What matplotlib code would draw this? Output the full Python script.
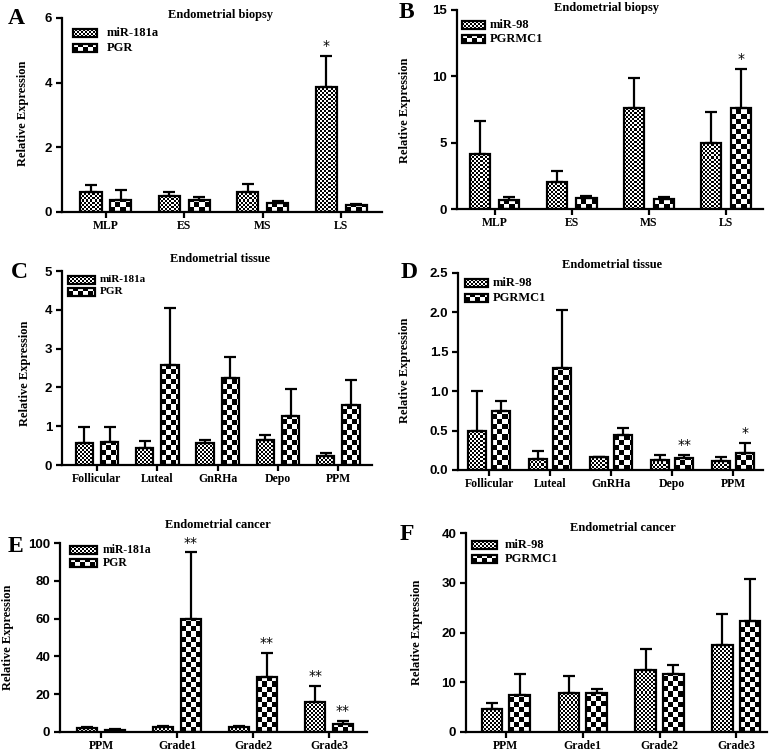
import numpy as np
import matplotlib.pyplot as plt
from matplotlib.patches import Rectangle
from matplotlib.ticker import FormatStrFormatter

# ---------------- data ----------------
biopsy = ['MLP', 'ES', 'MS', 'LS']
tissue = ['Follicular', 'Luteal', 'GnRHa', 'Depo', 'PPM']
cancer = ['PPM', 'Grade1', 'Grade2', 'Grade3']

# A: endometrial biopsy, miR-181a / PGR
a_mir = [0.62, 0.49, 0.62, 3.86]
a_mir_sd = [0.21, 0.13, 0.24, 0.97]
a_gene = [0.36, 0.36, 0.29, 0.21]
a_gene_sd = [0.31, 0.11, 0.06, 0.03]
a_stars = [(0, 3, '*')]

# B: endometrial biopsy, miR-98 / PGRMC1
b_mir = [4.15, 2.0, 7.64, 5.0]
b_mir_sd = [2.51, 0.89, 2.26, 2.34]
b_gene = [0.65, 0.80, 0.73, 7.59]
b_gene_sd = [0.28, 0.18, 0.20, 2.96]
b_stars = [(1, 3, '*')]

# C: endometrial tissue, miR-181a / PGR
c_mir = [0.56, 0.45, 0.56, 0.64, 0.24]
c_mir_sd = [0.43, 0.18, 0.08, 0.13, 0.06]
c_gene = [0.58, 2.58, 2.25, 1.27, 1.55]
c_gene_sd = [0.41, 1.46, 0.54, 0.68, 0.64]
c_stars = []

# D: endometrial tissue, miR-98 / PGRMC1
d_mir = [0.50, 0.14, 0.16, 0.13, 0.12]
d_mir_sd = [0.50, 0.10, 0.01, 0.06, 0.05]
d_gene = [0.75, 1.29, 0.44, 0.15, 0.21]
d_gene_sd = [0.13, 0.74, 0.09, 0.04, 0.13]
d_stars = [(1, 3, '**'), (1, 4, '*')]

# E: endometrial cancer, miR-181a / PGR
e_mir = [2.1, 2.5, 2.6, 15.8]
e_mir_sd = [0.4, 0.5, 0.7, 8.8]
e_gene = [1.2, 60.0, 29.3, 4.2]
e_gene_sd = [0.3, 35.0, 12.7, 1.8]
e_stars = [(1, 1, '**'), (1, 2, '**'), (0, 3, '**'), (1, 3, '**')]

# F: endometrial cancer, miR-98 / PGRMC1
f_mir = [4.56, 7.9, 12.5, 17.4]
f_mir_sd = [1.34, 3.3, 4.1, 6.4]
f_gene = [7.4, 7.85, 11.7, 22.3]
f_gene_sd = [4.3, 0.75, 1.7, 8.4]
f_stars = []

panels = [
    dict(letter='A', title='Endometrial biopsy', groups=biopsy, names=['miR-181a', 'PGR'],
         mir=a_mir, mir_sd=a_mir_sd, gene=a_gene, gene_sd=a_gene_sd, stars=a_stars,
         yticks=[0, 2, 4, 6], fmt='%d'),
    dict(letter='B', title='Endometrial biopsy', groups=biopsy, names=['miR-98', 'PGRMC1'],
         mir=b_mir, mir_sd=b_mir_sd, gene=b_gene, gene_sd=b_gene_sd, stars=b_stars,
         yticks=[0, 5, 10, 15], fmt='%d'),
    dict(letter='C', title='Endometrial tissue', groups=tissue, names=['miR-181a', 'PGR'],
         mir=c_mir, mir_sd=c_mir_sd, gene=c_gene, gene_sd=c_gene_sd, stars=c_stars,
         yticks=[0, 1, 2, 3, 4, 5], fmt='%d'),
    dict(letter='D', title='Endometrial tissue', groups=tissue, names=['miR-98', 'PGRMC1'],
         mir=d_mir, mir_sd=d_mir_sd, gene=d_gene, gene_sd=d_gene_sd, stars=d_stars,
         yticks=[0, 0.5, 1.0, 1.5, 2.0, 2.5], fmt='%.1f'),
    dict(letter='E', title='Endometrial cancer', groups=cancer, names=['miR-181a', 'PGR'],
         mir=e_mir, mir_sd=e_mir_sd, gene=e_gene, gene_sd=e_gene_sd, stars=e_stars,
         yticks=[0, 20, 40, 60, 80, 100], fmt='%d'),
    dict(letter='F', title='Endometrial cancer', groups=cancer, names=['miR-98', 'PGRMC1'],
         mir=f_mir, mir_sd=f_mir_sd, gene=f_gene, gene_sd=f_gene_sd, stars=f_stars,
         yticks=[0, 10, 20, 30, 40], fmt='%d'),
]

# ---------------- layout (pixels) ----------------
W, H = 777, 752
layout = {
    'A': dict(rect=(62, 18, 382, 212), xlim=(-0.56, 3.52), w=0.27, off=0.19, lfs=9,
              tpos=(220, 15), lpos=(16, 18), ypos=(23, 113), leg=(73, 97, 33, 48, 107)),
    'B': dict(rect=(457, 10, 763, 209), xlim=(-0.49, 3.48), w=0.26, off=0.19, lfs=9,
              tpos=(607, 8), lpos=(406, 13), ypos=(405, 110), leg=(462, 485, 25, 39, 490)),
    'C': dict(rect=(62, 271, 372, 465), xlim=(-0.58, 4.56), w=0.29, off=0.21, lfs=8,
              tpos=(220, 259), lpos=(19, 273), ypos=(25, 373), leg=(68, 95, 280, 292, 100)),
    'D': dict(rect=(458, 273, 763, 470), xlim=(-0.51, 4.49), w=0.30, off=0.20, lfs=9,
              tpos=(612, 265), lpos=(409, 272), ypos=(405, 370), leg=(465, 488, 283, 298, 493)),
    'E': dict(rect=(60, 543, 367, 732), xlim=(-0.54, 3.50), w=0.26, off=0.18, lfs=8.5,
              tpos=(218, 525), lpos=(15, 546), ypos=(8, 637), leg=(70, 97, 550, 563, 103)),
    'F': dict(rect=(466, 533, 767, 732), xlim=(-0.52, 3.40), w=0.27, off=0.18, lfs=9,
              tpos=(623, 528), lpos=(407, 535), ypos=(417, 632), leg=(472, 497, 545, 559, 505)),
}

serif = 'Liberation Serif'
sans = 'Liberation Sans'
LW = 1.6
FINE, COARSE = 2, 5   # checker cell size in pixels

fig = plt.figure(figsize=(W / 100, H / 100), dpi=100)
ov = fig.add_axes([0, 0, 1, 1], zorder=5)
ov.set_xlim(0, W)
ov.set_ylim(H, 0)
ov.axis('off')
ov.patch.set_alpha(0)


def checker(ax, patch, cell):
    bb = patch.get_window_extent()
    nx = max(1, int(np.ceil(bb.width / cell)))
    ny = max(1, int(np.ceil(bb.height / cell)))
    img = (np.add.outer(np.arange(ny), np.arange(nx)) % 2).astype(float)
    inv = ax.transData.inverted()
    x0, y0 = inv.transform((bb.x0, bb.y0))
    x1, y1 = inv.transform((bb.x0 + nx * cell, bb.y0 + ny * cell))
    im = ax.imshow(img, cmap='gray', vmin=0, vmax=1, extent=(x0, x1, y0, y1),
                   origin='lower', interpolation='nearest', aspect='auto', zorder=2)
    im.set_clip_path(patch)


for p in panels:
    L = layout[p['letter']]
    l, t, r, b = L['rect']
    ax = fig.add_axes([l / W, 1 - b / H, (r - l) / W, (b - t) / H])
    ymax = p['yticks'][-1]
    ax.set_xlim(*L['xlim'])
    ax.set_ylim(0, ymax)

    x = np.arange(len(p['groups']))
    xs = [x - L['off'], x + L['off']]
    vals = [p['mir'], p['gene']]
    sds = [p['mir_sd'], p['gene_sd']]
    cells = [FINE, COARSE]
    for k in range(2):
        bars = ax.bar(xs[k], vals[k], L['w'], facecolor='none', edgecolor='black',
                      linewidth=LW, zorder=3)
        for patch in bars:
            checker(ax, patch, cells[k])
        ax.errorbar(xs[k], vals[k], yerr=[np.zeros(len(x)), sds[k]], fmt='none',
                    ecolor='black', elinewidth=LW, capsize=4.5, capthick=LW, zorder=4)

    for k, g, s in p['stars']:
        ax.annotate(s, (xs[k][g], vals[k][g] + sds[k][g]), xytext=(0, 2),
                    textcoords='offset points', ha='center', va='bottom',
                    fontsize=10, family='DejaVu Sans')

    ax.set_xlim(*L['xlim'])
    ax.set_ylim(0, ymax)
    ax.set_yticks(p['yticks'])
    ax.yaxis.set_major_formatter(FormatStrFormatter(p['fmt']))
    ax.set_xticks(x)
    ax.set_xticklabels(p['groups'], family=serif, fontweight='bold', fontsize=8.5)
    for lab in ax.get_yticklabels():
        lab.set_family(sans)
        lab.set_fontweight('bold')
        lab.set_fontsize(9.5)
    ax.tick_params(axis='y', direction='out', width=LW, length=4, pad=3)
    ax.tick_params(axis='x', direction='out', width=LW, length=4, pad=2)
    for sp in ['top', 'right']:
        ax.spines[sp].set_visible(False)
    for sp in ['left', 'bottom']:
        ax.spines[sp].set_linewidth(LW)
    ax.patch.set_alpha(0)

    # panel text
    ov.text(*L['tpos'], p['title'], ha='center', va='center', family=serif,
            fontweight='bold', fontsize=9)
    ov.text(*L['lpos'], p['letter'], ha='center', va='center', family=serif,
            fontweight='bold', fontsize=17)
    ov.text(*L['ypos'], 'Relative Expression', ha='center', va='center', rotation=90,
            family=serif, fontweight='bold', fontsize=9)

    # legend
    bx0, bx1, r1, r2, tx = L['leg']
    for k, yy in enumerate([r1, r2]):
        box = Rectangle((bx0, yy - 4), bx1 - bx0, 8, facecolor='none', edgecolor='black',
                        linewidth=LW, zorder=3)
        ov.add_patch(box)
        checker(ov, box, cells[k])
        ov.text(tx, yy, p['names'][k], ha='left', va='center', family=serif,
                fontweight='bold', fontsize=L['lfs'])

ov.set_xlim(0, W)
ov.set_ylim(H, 0)
fig.savefig('out.png', dpi=100)
